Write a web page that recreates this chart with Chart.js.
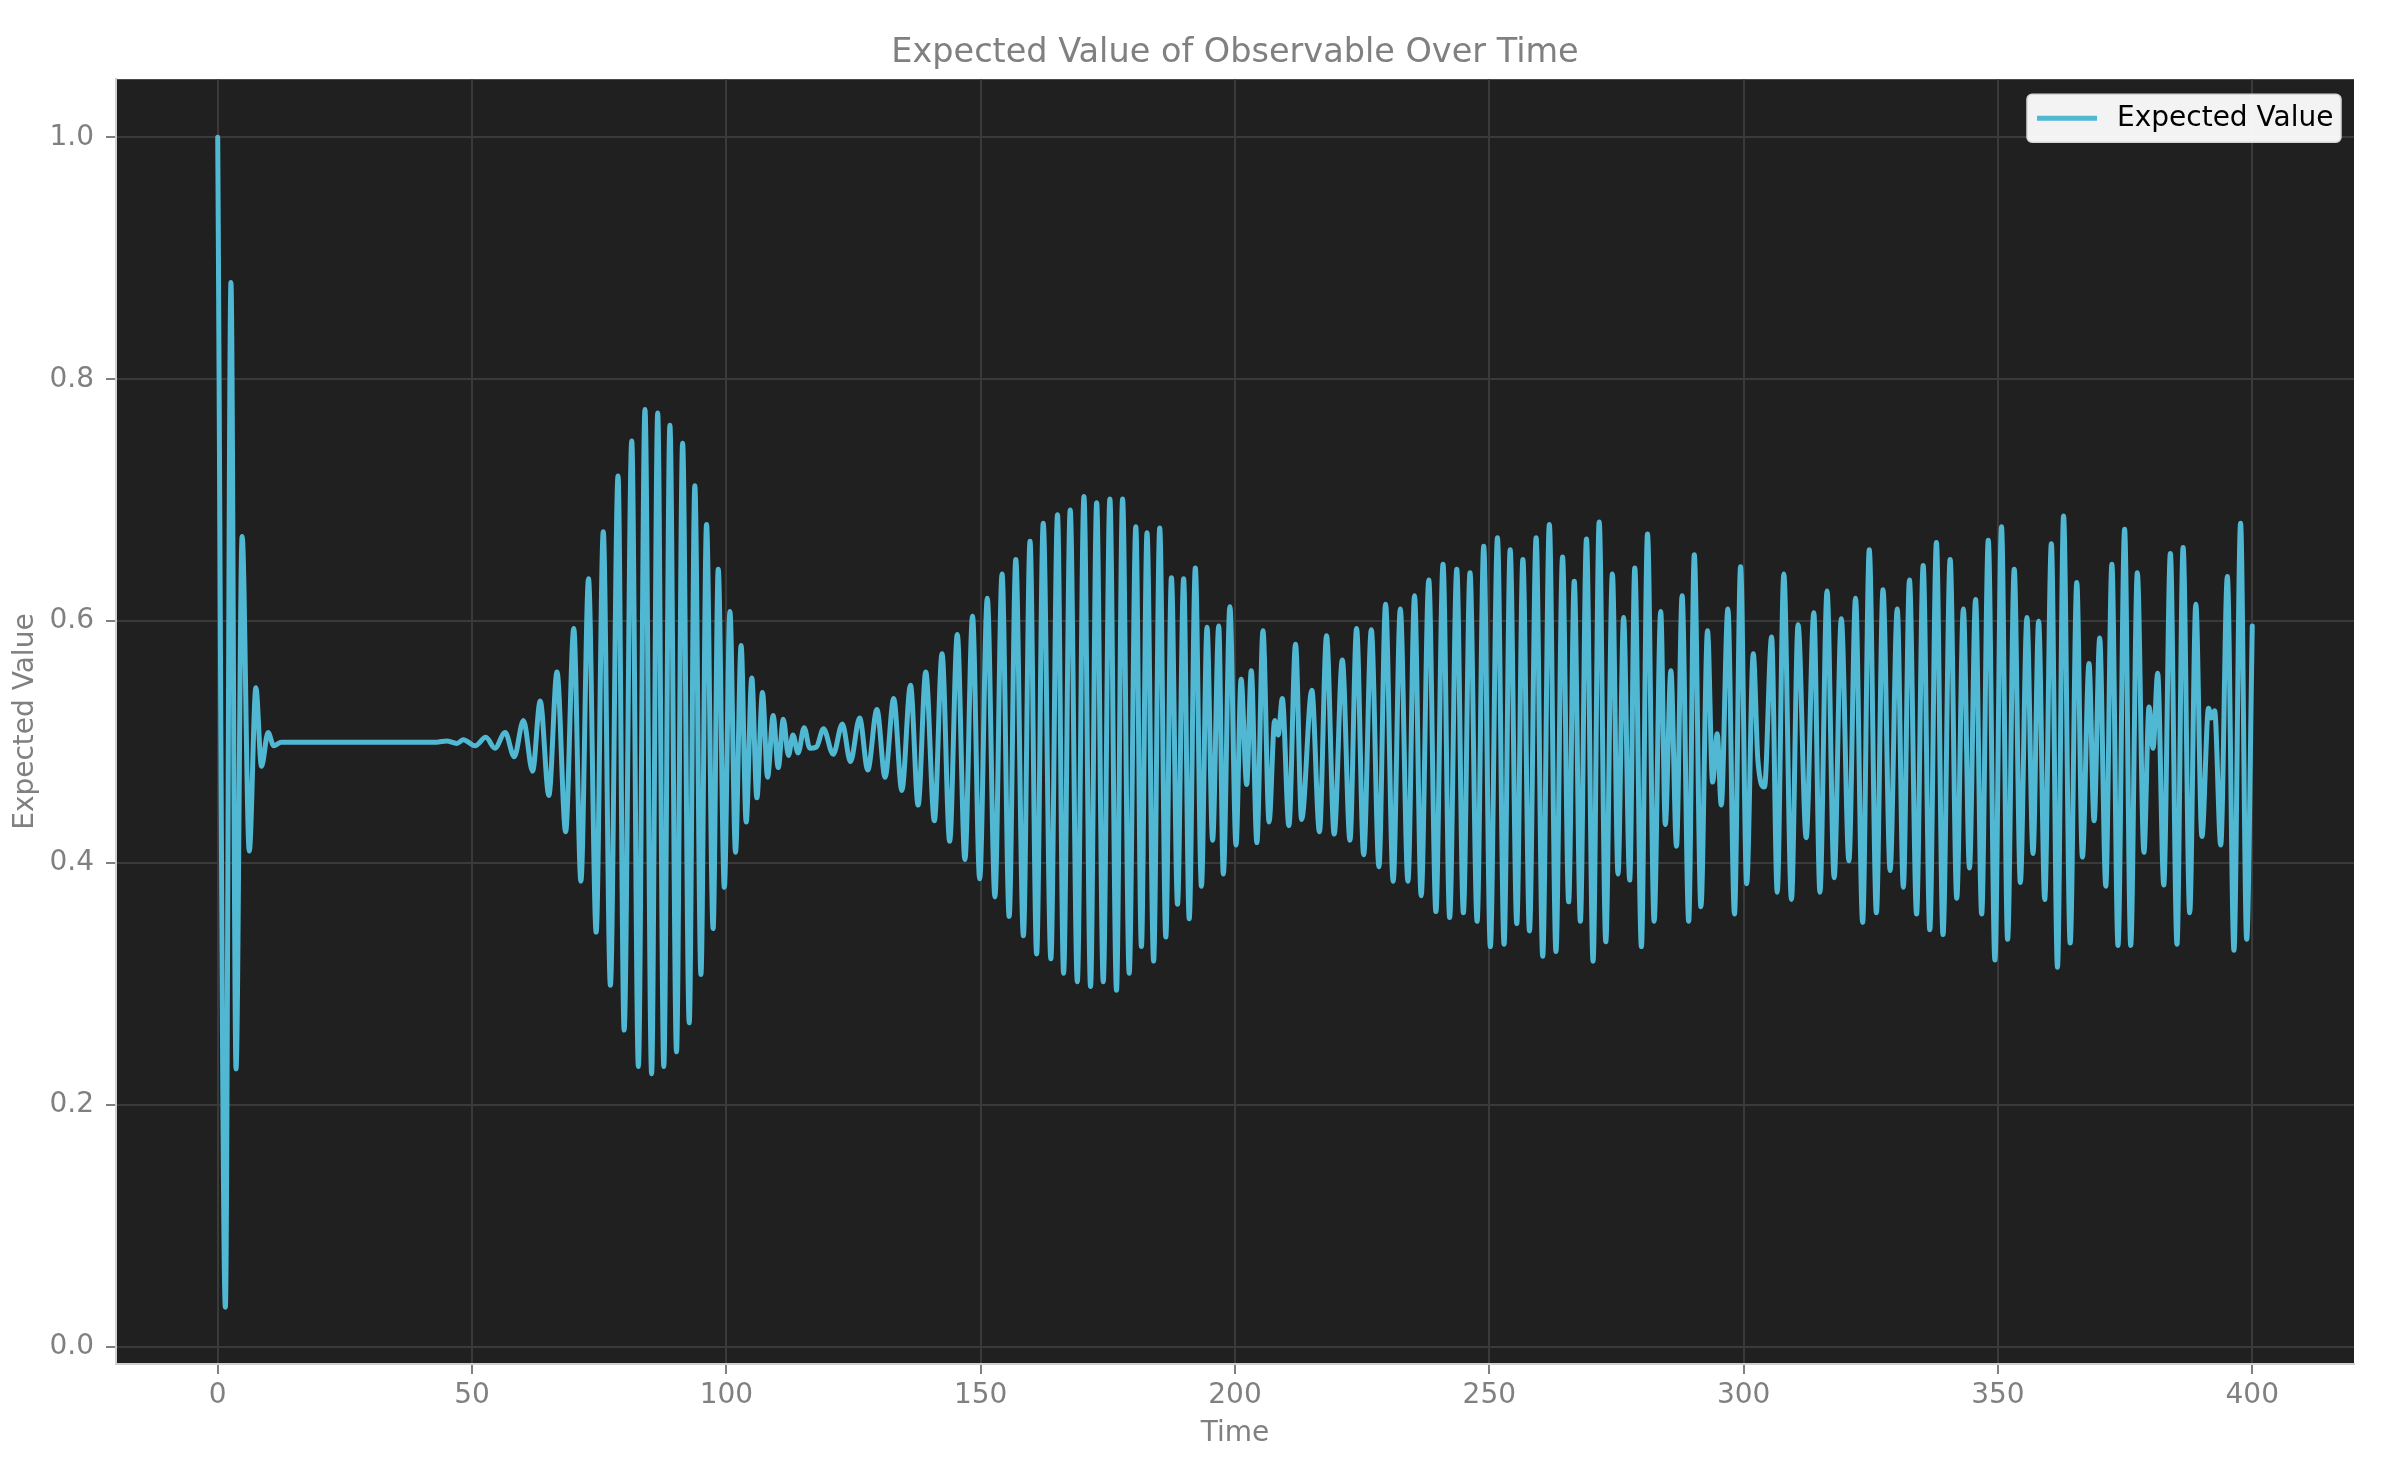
<!DOCTYPE html>
<html>
<head>
<meta charset="utf-8">
<title>Expected Value of Observable Over Time</title>
<script src="https://cdn.jsdelivr.net/npm/chart.js@4.4.1/dist/chart.umd.min.js"></script>
<style>
  html, body { margin: 0; padding: 0; background: #ffffff; }
  canvas { display: block; }
</style>
</head>
<body>
<canvas id="evChart" width="2386" height="1460" style="width:2386px;height:1460px"></canvas>
<script>
// time samples (peaks / troughs)
const timePoints = [
  0, 1.5, 2.6, 3.6, 4.8, 6.2, 7.5, 8.6, 9.9, 11, 12.5, 30, 43, 45, 47,
  48.3, 50.6, 52.7, 54.5, 56.5, 58.3, 60.1, 61.9, 63.4, 65.1, 66.7, 68.4, 70.0, 71.4, 72.9, 74.4,
  75.8, 77.2, 78.7, 79.9, 81.4, 82.7, 84.0, 85.3, 86.5, 87.7, 88.9, 90.2, 91.4, 92.7, 93.8, 95.0,
  96.1, 97.4, 98.4, 99.6, 100.7, 101.8, 102.9, 103.9, 105.0, 106.0, 107.1, 108.1, 109.2, 110.2,
  111.2, 112.2, 113.1, 114.1, 115.3, 116.4, 117.7, 119.1, 121.0, 122.8, 124.4, 126.2, 127.8, 129.6,
  131.2, 132.9, 134.5, 136.2, 137.7, 139.2, 140.9, 142.4, 143.9, 145.4, 146.9, 148.4, 149.8, 151.3,
  152.8, 154.2, 155.6, 156.9, 158.4, 159.7, 161.0, 162.3, 163.8, 165.1, 166.3, 167.6, 169.0, 170.3,
  171.6, 172.8, 174.1, 175.4, 176.7, 177.9, 179.2, 180.5, 181.6, 182.7, 184.0, 185.2, 186.4, 187.5,
  188.7, 189.9, 191.0, 192.2, 193.4, 194.5, 195.6, 196.8, 197.7, 199.0, 200.2, 201.2, 202.3, 203.2,
  204.3, 205.5, 206.7, 207.8, 208.5, 209.3, 210.6, 211.9, 213.1, 215.1, 216.6, 218.0, 219.5, 221.1,
  222.6, 223.9, 225.3, 226.8, 228.3, 229.6, 231.1, 232.5, 234.0, 235.3, 236.6, 238.1, 239.5, 240.9,
  242.2, 243.6, 244.9, 246.2, 247.6, 248.9, 250.2, 251.6, 252.9, 254.1, 255.4, 256.6, 257.9, 259.2,
  260.5, 261.8, 263.1, 264.4, 265.6, 266.7, 267.9, 269.1, 270.4, 271.6, 272.9, 274.2, 275.3, 276.4,
  277.6, 278.6, 279.9, 281.1, 282.4, 283.7, 284.6, 285.7, 286.8, 287.9, 289.2, 290.3, 291.6, 292.9,
  293.9, 294.8, 295.6, 296.9, 298.2, 299.4, 300.6, 301.9, 302.8, 304.1, 305.5, 306.6, 307.9, 309.4,
  310.7, 312.3, 313.8, 315.0, 316.4, 317.8, 319.2, 320.7, 322.0, 323.4, 324.7, 326.1, 327.4, 328.8,
  330.2, 331.4, 332.6, 334.0, 335.3, 336.6, 337.9, 339.2, 340.6, 341.9, 343.2, 344.4, 345.6, 346.8,
  348.1, 349.4, 350.7, 351.9, 353.2, 354.4, 355.7, 356.9, 358.0, 359.2, 360.5, 361.7, 362.9, 364.2,
  365.5, 366.6, 367.9, 368.9, 370.0, 371.2, 372.4, 373.6, 374.9, 376.1, 377.4, 378.7, 379.7, 380.5,
  381.4, 382.6, 383.9, 385.2, 386.4, 387.7, 388.9, 390.1, 391.4, 392.0, 392.6, 393.8, 395.1, 396.4,
  397.7, 398.9, 400
];

const expectedValues = [
  1.0, 0.033, 0.88, 0.23, 0.67, 0.41, 0.545, 0.48, 0.508, 0.497, 0.5, 0.5, 0.5, 0.501, 0.499,
  0.502, 0.497, 0.504, 0.495, 0.508, 0.488, 0.518, 0.476, 0.534, 0.456, 0.558, 0.426, 0.594, 0.385, 0.635, 0.343,
  0.674, 0.299, 0.72, 0.262, 0.749, 0.232, 0.775, 0.226, 0.772, 0.232, 0.762, 0.244, 0.747, 0.268, 0.712, 0.308,
  0.680, 0.346, 0.643, 0.380, 0.608, 0.409, 0.580, 0.434, 0.553, 0.454, 0.541, 0.471, 0.522, 0.479,
  0.519, 0.489, 0.506, 0.491, 0.512, 0.495, 0.496, 0.511, 0.490, 0.515, 0.484, 0.520, 0.477, 0.527,
  0.471, 0.536, 0.460, 0.547, 0.448, 0.558, 0.435, 0.573, 0.418, 0.589, 0.403, 0.604, 0.387, 0.619,
  0.372, 0.639, 0.356, 0.651, 0.340, 0.666, 0.325, 0.681, 0.321, 0.688, 0.309, 0.692, 0.302, 0.703,
  0.298, 0.698, 0.302, 0.701, 0.295, 0.701, 0.309, 0.678, 0.331, 0.673, 0.319, 0.677, 0.339, 0.636,
  0.366, 0.635, 0.354, 0.644, 0.381, 0.595, 0.419, 0.596, 0.391, 0.612, 0.415, 0.552, 0.465, 0.559,
  0.417, 0.592, 0.434, 0.518, 0.506, 0.536, 0.431, 0.581, 0.436, 0.543, 0.426, 0.588, 0.424, 0.568,
  0.419, 0.594, 0.407, 0.593, 0.397, 0.614, 0.385, 0.610, 0.385, 0.621, 0.373, 0.634, 0.360, 0.647,
  0.355, 0.643, 0.359, 0.640, 0.352, 0.662, 0.331, 0.669, 0.333, 0.659, 0.350, 0.651, 0.344, 0.669,
  0.323, 0.680, 0.327, 0.653, 0.368, 0.633, 0.352, 0.668, 0.319, 0.682, 0.335, 0.639, 0.391, 0.603,
  0.386, 0.644, 0.331, 0.672, 0.352, 0.608, 0.432, 0.559, 0.414, 0.621, 0.352, 0.655, 0.364, 0.592,
  0.467, 0.507, 0.448, 0.610, 0.358, 0.645, 0.383, 0.573, 0.485, 0.463, 0.587, 0.376, 0.639, 0.370,
  0.597, 0.421, 0.607, 0.376, 0.625, 0.388, 0.602, 0.402, 0.619, 0.351, 0.659, 0.359, 0.626, 0.394,
  0.610, 0.380, 0.634, 0.358, 0.646, 0.345, 0.665, 0.341, 0.651, 0.371, 0.610, 0.396, 0.618, 0.358,
  0.667, 0.320, 0.678, 0.337, 0.643, 0.384, 0.603, 0.408, 0.600, 0.370, 0.664, 0.314, 0.687, 0.334,
  0.632, 0.405, 0.565, 0.435, 0.586, 0.381, 0.647, 0.332, 0.676, 0.332, 0.640, 0.409, 0.529, 0.495,
  0.557, 0.382, 0.656, 0.333, 0.661, 0.359, 0.614, 0.422, 0.528, 0.520, 0.526, 0.415, 0.637, 0.328,
  0.681, 0.337, 0.596
];

const xTicks = [0, 50, 100, 150, 200, 250, 300, 350, 400];
const yTicks = [0.0, 0.2, 0.4, 0.6, 0.8, 1.0];

const lineColor = '#50b8d2';
const textGray = '#808080';
const gridColor = '#3a3a3a';

// dark plot area behind the line
const plotBackground = {
  id: 'plotBackground',
  beforeDraw(chart) {
    const { ctx, chartArea: a } = chart;
    ctx.save();
    ctx.fillStyle = '#202020';
    ctx.fillRect(a.left, a.top, a.right - a.left, a.bottom - a.top);
    ctx.restore();
  }
};

// matplotlib style legend box inside the upper right corner
const legendBox = {
  id: 'legendBox',
  afterDraw(chart) {
    const { ctx, chartArea: a } = chart;
    const ds = chart.data.datasets[0];
    const right = a.right - 13, top = a.top + 15;
    const w = 314, h = 48;
    const left = right - w;
    ctx.save();
    ctx.fillStyle = 'rgba(255,255,255,0.95)';
    ctx.strokeStyle = '#d6d6d6';
    ctx.lineWidth = 1.5;
    ctx.beginPath();
    ctx.roundRect(left, top, w, h, 5);
    ctx.fill();
    ctx.stroke();
    const cy = top + h / 2;
    ctx.strokeStyle = ds.borderColor;
    ctx.lineWidth = ds.borderWidth;
    ctx.beginPath();
    ctx.moveTo(left + 10, cy);
    ctx.lineTo(left + 70, cy);
    ctx.stroke();
    ctx.fillStyle = '#000000';
    ctx.font = '28px "DejaVu Sans"';
    ctx.textBaseline = 'middle';
    ctx.fillText(ds.label, left + 90, cy + 1);
    ctx.restore();
  }
};

const ctx = document.getElementById('evChart').getContext('2d');
const evChart = new Chart(ctx, {
  type: 'line',
  data: {
    datasets: [{
      label: 'Expected Value',
      data: timePoints.map((t, i) => ({ x: t, y: expectedValues[i] })),
      borderColor: lineColor,
      borderWidth: 5,
      pointRadius: 0,
      cubicInterpolationMode: 'monotone',
      borderJoinStyle: 'round',
      borderCapStyle: 'round',
      fill: false
    }]
  },
  options: {
    responsive: false,
    devicePixelRatio: 1,
    animation: false,
    layout: { padding: { left: 0, right: 32, top: 0, bottom: 0 } },
    plugins: {
      legend: { display: false },
      tooltip: { enabled: false },
      title: {
        display: true,
        text: 'Expected Value of Observable Over Time',
        color: textGray,
        fullSize: false,
        font: { family: 'DejaVu Sans', size: 33.5, weight: 'normal' },
        padding: { top: 33, bottom: 6 }
      }
    },
    scales: {
      x: {
        type: 'linear',
        min: -20,
        max: 420,
        afterBuildTicks: s => { s.ticks = xTicks.map(v => ({ value: v })); },
        afterFit: s => { s.height = 96; },
        ticks: {
          color: textGray,
          font: { family: 'DejaVu Sans', size: 28 },
          padding: 5,
          maxRotation: 0,
          callback: v => String(v)
        },
        grid: { color: gridColor, lineWidth: 2, tickLength: 10, tickColor: textGray, tickWidth: 2 },
        border: { color: '#cfcfcf', width: 2 },
        title: {
          display: true,
          text: 'Time',
          color: textGray,
          font: { family: 'DejaVu Sans', size: 28 },
          padding: { top: 0, bottom: 9 }
        }
      },
      y: {
        type: 'linear',
        min: -0.014,
        max: 1.048,
        afterBuildTicks: s => { s.ticks = yTicks.map(v => ({ value: v })); },
        afterFit: s => { s.width = 116; },
        ticks: {
          color: textGray,
          font: { family: 'DejaVu Sans', size: 28 },
          padding: 12,
          callback: v => Number(v).toFixed(1)
        },
        grid: { color: gridColor, lineWidth: 2, tickLength: 10, tickColor: textGray, tickWidth: 2 },
        border: { color: '#cfcfcf', width: 2 },
        title: {
          display: true,
          text: 'Expected Value',
          color: textGray,
          font: { family: 'DejaVu Sans', size: 28 },
          padding: { top: 9, bottom: 0 }
        }
      }
    }
  },
  plugins: [plotBackground, legendBox]
});
</script>
</body>
</html>
